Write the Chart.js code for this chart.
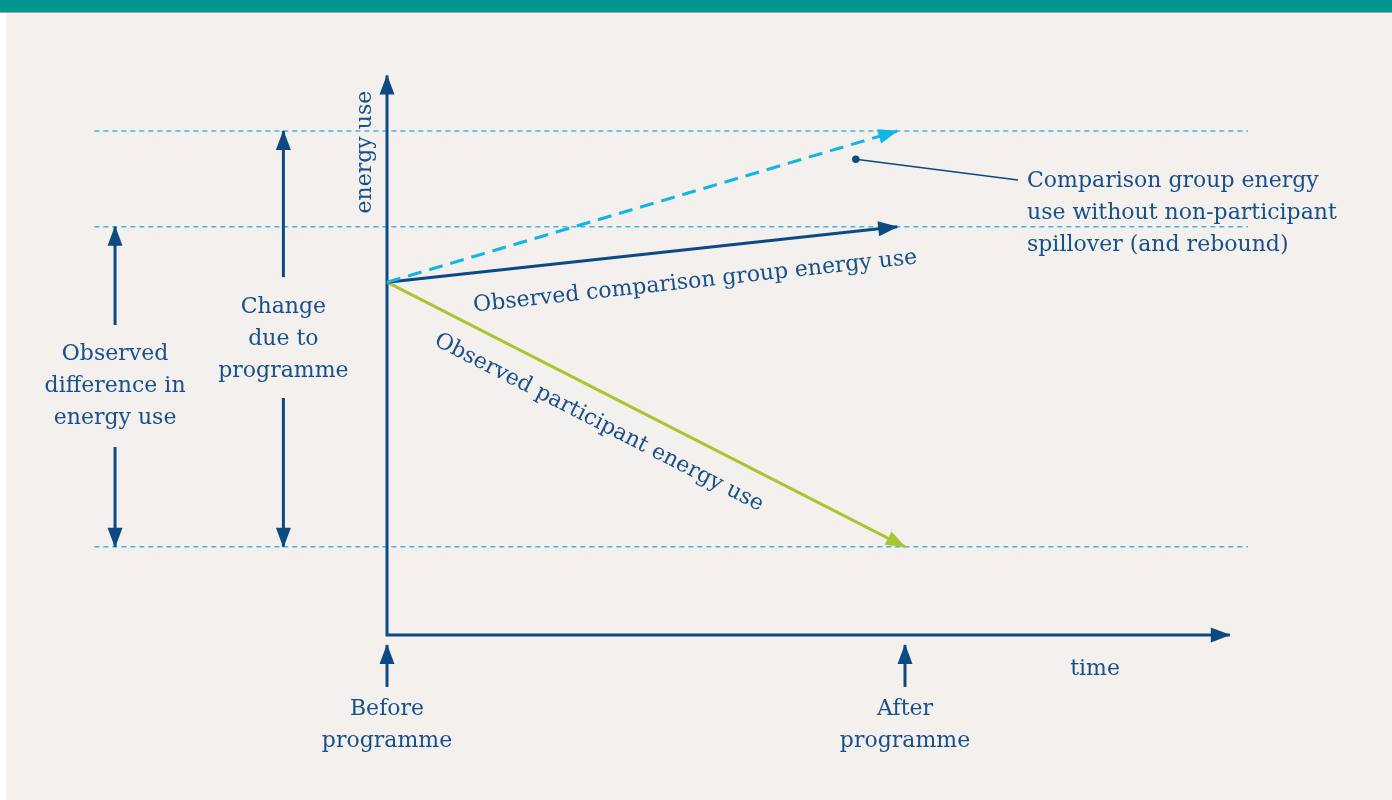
<!DOCTYPE html>
<html>
<head>
<meta charset="utf-8">
<script src="https://cdn.jsdelivr.net/npm/chart.js@4.4.1/dist/chart.umd.min.js"></script>
<style>
  html, body { margin: 0; padding: 0; background: #fff; }
  #page { position: relative; width: 1392px; height: 800px; overflow: hidden; }
  #bar { position: absolute; left: 0; top: 0; width: 1392px; height: 12px; background: #00958f; border-bottom: 1px solid #a2a69f; }
  #panel { position: absolute; left: 6px; top: 13px; right: 0; bottom: 0; background: #f3f0ed; }
  #wrap { position: absolute; left: 0; top: 0; width: 1392px; height: 800px; }
</style>
</head>
<body>
<div id="page">
  <div id="bar"></div>
  <div id="panel"></div>
  <div id="wrap"><canvas id="c"></canvas></div>
</div>
<script>
// time: 0 = before programme, 1 = after programme
const periods = ['Before', 'After'];
const periodTimes = [0, 1];
const trendTimes = [0, 0.985];          // blue arrows stop just short of "after"

// energy use, arbitrary units (0 = time axis)
const startEnergy = 70;
const noSpilloverSeries = [startEnergy, 100];
const comparisonSeries = [startEnergy, 81];
const participantSeries = [startEnergy, 17.5];

// axes and guide extents
const axisTop = 111;
const axisRight = 1.627;
const guideTimes = [-0.565, 1.662];
const guideLevels = [noSpilloverSeries[1], comparisonSeries[1], participantSeries[1]];

// brackets on the left
const diffTime = -0.525;
const diffUp = [61.5, comparisonSeries[1]];
const diffDown = [37.3, participantSeries[1]];
const changeTime = -0.2;
const changeUp = [71, noSpilloverSeries[1]];
const changeDown = [47, participantSeries[1]];

// before / after markers under the time axis
const markerSpan = [-10.3, -2.0];

// callout leader
const calloutTimes = [0.905, 1.218];
const calloutEnergy = [94.4, 90.3];

const NAVY = '#0b4a83';
const CYAN = '#12b5e6';
const GUIDE = '#3db6e8';
const GREEN = '#a9c531';
const TEXT = '#17508a';

function pts(xs, ys) {
  return xs.map((x, i) => ({ x, y: ys[i] }));
}

function line(data, color, width, extra = {}) {
  return Object.assign({
    data,
    showLine: true,
    borderColor: color,
    backgroundColor: color,
    borderWidth: width,
    pointRadius: 0,
    pointHoverRadius: 0,
    borderCapStyle: 'butt',
    clip: false,
    order: 0,
  }, extra);
}

const datasets = [
  // trend lines
  line(pts(trendTimes, noSpilloverSeries), CYAN, 3, { borderDash: [14, 8], arrowEnd: true }),
  line(pts(trendTimes, comparisonSeries), NAVY, 3, { arrowEnd: true }),
  line(pts(periodTimes, participantSeries), GREEN, 3, { arrowEnd: true }),
  // axes
  line([{ x: 0, y: axisTop }, { x: 0, y: 0 }, { x: axisRight, y: 0 }], NAVY, 3, { arrowStart: true, arrowEnd: true, borderJoinStyle: 'miter' }),
  // brackets
  line(pts([diffTime, diffTime], diffUp), NAVY, 3, { arrowEnd: true }),
  line(pts([diffTime, diffTime], diffDown), NAVY, 3, { arrowEnd: true }),
  line(pts([changeTime, changeTime], changeUp), NAVY, 3, { arrowEnd: true }),
  line(pts([changeTime, changeTime], changeDown), NAVY, 3, { arrowEnd: true }),
  // markers
  line(pts([periodTimes[0], periodTimes[0]], markerSpan), NAVY, 3, { arrowEnd: true }),
  line(pts([periodTimes[1], periodTimes[1]], markerSpan), NAVY, 3, { arrowEnd: true }),
  // callout leader
  line(pts(calloutTimes, calloutEnergy), NAVY, 1.5, { pointRadius: [3, 0] }),
];
guideLevels.forEach(level => {
  datasets.push(line(pts(guideTimes, [level, level]), GUIDE, 1.5, { borderDash: [5, 4], order: 10 }));
});

const labels = [
  { lines: ['Observed', 'difference in', 'energy use'], x: diffTime, y: 55.75 },
  { lines: ['Change', 'due to', 'programme'], x: changeTime, y: 65.1 },
  { lines: ['energy use'], x: -0.0425, y: 95.8, rotate: -Math.PI / 2 },
  { lines: ['time'], x: 1.367, y: -6.9 },
  { lines: [periods[0], 'programme'], x: periodTimes[0], y: -14.7 },
  { lines: [periods[1], 'programme'], x: periodTimes[1], y: -14.7 },
  { lines: ['Comparison group energy', 'use without non-participant', 'spillover (and rebound)'], x: 1.2355, y: 90.1, align: 'left' },
  { lines: ['Observed comparison group energy use'], x: 0.595, y: 70.1, along: 1 },
  { lines: ['Observed participant energy use'], x: 0.409, y: 42.1, along: 2 },
];

function arrowHead(ctx, from, to, color) {
  const ang = Math.atan2(to.y - from.y, to.x - from.x);
  const len = 19, half = 7.5;
  ctx.save();
  ctx.translate(to.x, to.y);
  ctx.rotate(ang);
  ctx.fillStyle = color;
  ctx.beginPath();
  ctx.moveTo(1, 0);
  ctx.lineTo(-len, -half);
  ctx.lineTo(-len, half);
  ctx.closePath();
  ctx.fill();
  ctx.restore();
}

const arrowPlugin = {
  id: 'arrows',
  afterDatasetsDraw(chart) {
    const ctx = chart.ctx;
    chart.data.datasets.forEach((ds, i) => {
      const p = chart.getDatasetMeta(i).data;
      if (ds.arrowEnd) arrowHead(ctx, p[p.length - 2], p[p.length - 1], ds.borderColor);
      if (ds.arrowStart) arrowHead(ctx, p[1], p[0], ds.borderColor);
    });
  }
};

const textPlugin = {
  id: 'texts',
  afterDraw(chart) {
    const ctx = chart.ctx;
    const xs = chart.scales.x, ys = chart.scales.y;
    const lh = 32;
    ctx.save();
    ctx.font = '22px "DejaVu Serif"';
    ctx.fillStyle = TEXT;
    ctx.textBaseline = 'middle';
    labels.forEach(l => {
      const px = xs.getPixelForValue(l.x), py = ys.getPixelForValue(l.y);
      let rot = l.rotate || 0;
      if (l.along !== undefined) {
        const p = chart.getDatasetMeta(l.along).data;
        rot = Math.atan2(p[1].y - p[0].y, p[1].x - p[0].x);
      }
      ctx.save();
      ctx.translate(px, py);
      ctx.rotate(rot);
      ctx.textAlign = l.align || 'center';
      l.lines.forEach((t, k) => ctx.fillText(t, 0, k * lh));
      ctx.restore();
    });
    ctx.restore();
  }
};

new Chart(document.getElementById('c'), {
  type: 'scatter',
  data: { datasets },
  options: {
    responsive: true,
    maintainAspectRatio: false,
    animation: false,
    events: [],
    layout: { padding: { left: 387, right: 487, top: 131, bottom: 165 } },
    scales: {
      x: { type: 'linear', min: 0, max: 1, display: false },
      y: { type: 'linear', min: 0, max: 100, display: false },
    },
    plugins: { legend: { display: false }, tooltip: { enabled: false } },
  },
  plugins: [arrowPlugin, textPlugin],
});
</script>
</body>
</html>
